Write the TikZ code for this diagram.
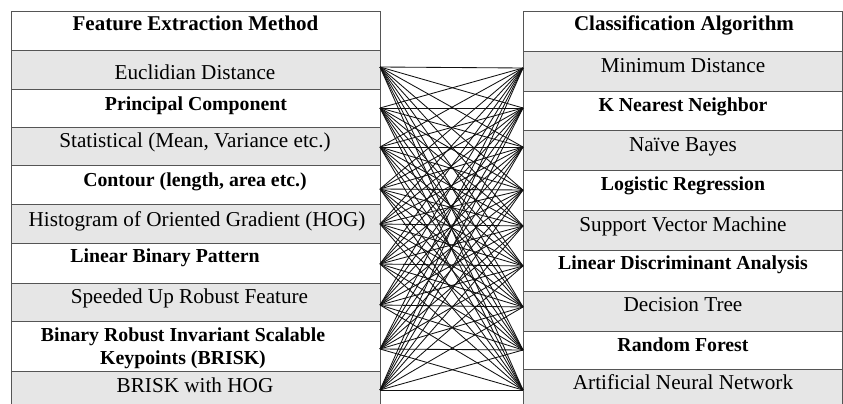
\documentclass[tikz,border=0pt]{standalone}
\usepackage{fontspec}
\setmainfont{LiberationSerif}[Extension=.ttf, UprightFont=*-Regular,
  BoldFont=*-Bold, ItalicFont=*-Italic, BoldItalicFont=*-BoldItalic]
\definecolor{rowgrey}{HTML}{E6E6E6}
\definecolor{cellline}{HTML}{555555}
\definecolor{wire}{HTML}{111111}
\begin{document}
\begin{tikzpicture}[x=1pt,y=-1pt,
  cell/.style={draw=cellline, line width=0.9pt, anchor=north west,
    inner sep=0pt, outer sep=0pt},
  hdr/.style={font=\fontsize{21}{24}\bfseries, inner sep=0pt, anchor=base},
  reg/.style={font=\fontsize{21.2}{24}\selectfont, inner sep=0pt, anchor=base},
  bld/.style={font=\fontsize{19.8}{23}\bfseries, inner sep=0pt, anchor=base},
  wirestyle/.style={draw=wire, line width=0.85pt}]
\clip (0,0) rectangle (843,404);
\fill[white] (0,0) rectangle (843,404);

% left table cells: index / top / bottom / fill
\foreach \i/\t/\b/\c in {0/11/50/white, 1/50/89/rowgrey, 2/89/127/white,
    3/127/165/rowgrey, 4/165/204/white, 5/204/243/rowgrey, 6/243/283/white,
    7/283/321/rowgrey, 8/321/371/white, 9/371/410/rowgrey} {
  \pgfmathsetmacro\h{\b-\t}
  \node[cell, fill=\c, minimum width=369pt, minimum height=\h pt] (lc\i) at (11,\t) {};
}
% right table cells
\foreach \i/\t/\b/\c in {0/11/51/white, 1/51/91/rowgrey, 2/91/130/white,
    3/130/170/rowgrey, 4/170/210/white, 5/210/250/rowgrey, 6/250/291/white,
    7/291/331/rowgrey, 8/331/369/white, 9/369/410/rowgrey} {
  \pgfmathsetmacro\h{\b-\t}
  \node[cell, fill=\c, minimum width=319pt, minimum height=\h pt] (rc\i) at (523,\t) {};
}

% left texts
\node[hdr] (lt0) at (195.5,31) {Feature Extraction Method};
\node[reg] (lt1) at (195,79) {Euclidian Distance};
\node[bld] (lt2) at (196,110) {Principal Component};
\node[reg] (lt3) at (195,147) {Statistical (Mean, Variance etc.)};
\node[bld] (lt4) at (195,186) {Contour (length, area etc.)};
\node[reg] (lt5) at (197,226) {Histogram of Oriented Gradient (HOG)};
\node[bld] (lt6) at (165,262) {Linear Binary Pattern};
\node[reg] (lt7) at (189.5,303) {Speeded Up Robust Feature};
\node[bld, anchor=center, align=center] (lt8) at (183,348)
  {Binary Robust Invariant Scalable\\Keypoints (BRISK)};
\node[reg] (lt9) at (195,392) {BRISK with HOG};

% right texts
\node[hdr] (rt0) at (684,31) {Classification Algorithm};
\node[reg] (rt1) at (683,73) {Minimum Distance};
\node[bld] (rt2) at (683,111) {K Nearest Neighbor};
\node[reg] (rt3) at (683,151) {Naïve Bayes};
\node[bld] (rt4) at (683,190) {Logistic Regression};
\node[reg] (rt5) at (683,231) {Support Vector Machine};
\node[bld] (rt6) at (683,269) {Linear Discriminant Analysis};
\node[reg] (rt7) at (683,311) {Decision Tree};
\node[bld] (rt8) at (683,351) {Random Forest};
\node[reg] (rt9) at (683,389) {Artificial Neural Network};

% connection points on the facing edges
\foreach \k/\y in {1/67, 2/108, 3/147, 4/189, 5/224, 6/264, 7/305, 8/349, 9/390}
  \coordinate (L\k) at (380,\y);
\foreach \k/\y in {1/68, 2/108, 3/147, 4/190, 5/226, 6/266, 7/307, 8/350, 9/390}
  \coordinate (R\k) at (523,\y);

% every method linked to every classifier
\foreach \i in {1,...,9}
  \foreach \j in {1,...,9}
    \draw[wirestyle] (L\i) -- (R\j);
\end{tikzpicture}
\end{document}
